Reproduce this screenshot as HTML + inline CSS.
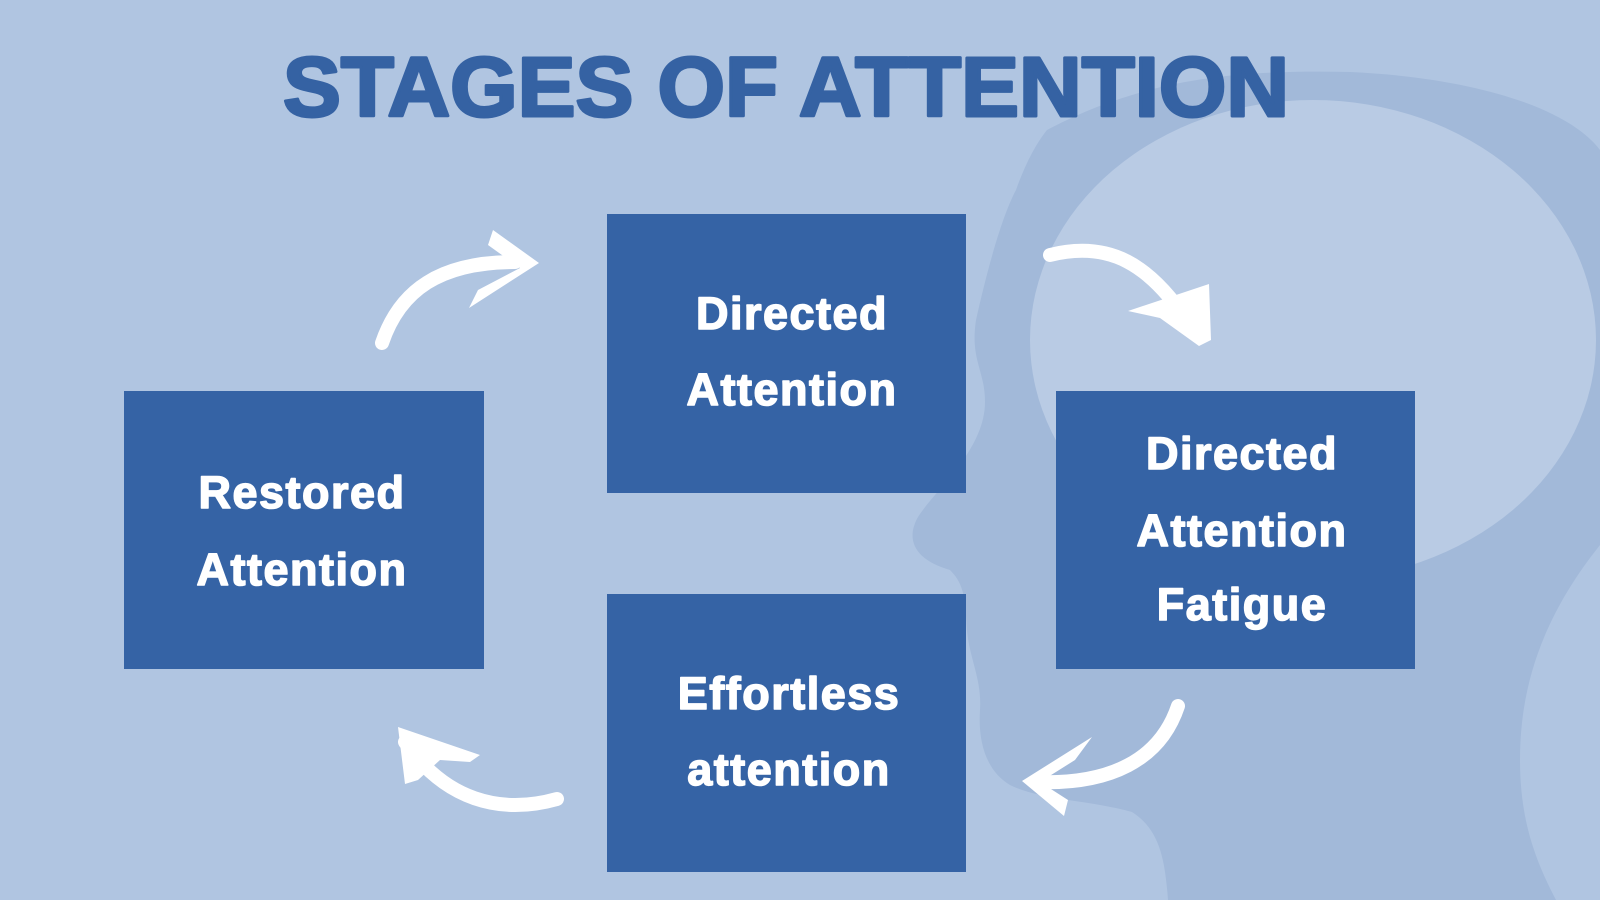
<!DOCTYPE html>
<html><head><meta charset="utf-8"><style>html,body{margin:0;padding:0;background:#b0c5e1}svg{display:block}</style></head>
<body>
<svg width="1600" height="900" viewBox="0 0 1600 900" xmlns="http://www.w3.org/2000/svg">
<rect width="1600" height="900" fill="#b0c5e1"/>
<!-- head -->
<path d="M1047,130 C1150,75 1250,70 1350,72 C1480,78 1570,110 1600,150 L1600,900 L1168,900 C1165,860 1160,830 1132,812 C1090,800 1040,800 1010,785 C985,770 978,740 980,710 C982,680 970,660 967,631 C965,600 965,585 950,570 C915,560 905,540 918,517 C935,490 985,450 985,402 C985,370 970,360 976,320 C985,280 1000,220 1016,190 C1025,165 1035,145 1047,130 Z" fill="#a2b9d9"/>
<ellipse cx="1313" cy="340" rx="283" ry="240" fill="#b9cbe4"/>
<path d="M1600,545 C1540,620 1520,690 1520,760 C1520,820 1535,860 1556,900 L1600,900 Z" fill="#b0c5e1"/>
<!-- title -->
<text x="786" y="116" text-anchor="middle" textLength="1006" lengthAdjust="spacingAndGlyphs" font-family="Liberation Sans, sans-serif" font-weight="bold" font-size="84" fill="#3562a3" stroke="#3562a3" stroke-width="3" stroke-linejoin="round">STAGES OF ATTENTION</text>
<!-- boxes -->
<g fill="#3563a5">
<rect x="607" y="214" width="359" height="279"/>
<rect x="124" y="391" width="360" height="278"/>
<rect x="1056" y="391" width="359" height="278"/>
<rect x="607" y="594" width="359" height="278"/>
</g>
<g font-family="Liberation Sans, sans-serif" font-weight="bold" font-size="45" fill="#fff" stroke="#fff" stroke-width="1.5" stroke-linejoin="round" text-anchor="middle" letter-spacing="1.5">
<text x="792" y="329">Directed</text>
<text x="792" y="405">Attention</text>
<text x="302" y="508">Restored</text>
<text x="302" y="585">Attention</text>
<text x="1242" y="469">Directed</text>
<text x="1242" y="546">Attention</text>
<text x="1242" y="620">Fatigue</text>
<text x="789" y="709">Effortless</text>
<text x="789" y="785">attention</text>
</g>
<!-- arrows -->
<g fill="none" stroke="#fff" stroke-width="14" stroke-linecap="round">
<path d="M382,343 C400,290 440,262 515,262"/>
<path d="M1050,255 C1110,240 1150,265 1188,322"/>
<path d="M1178,706 C1160,760 1110,785 1035,782"/>
<path d="M557,799 C500,815 445,800 405,742"/>
</g>
<g fill="#fff">
<polygon points="493,230 539,263 469,308 478,290 520,268 488,245"/>
<polygon points="1128,311 1209,284 1211,340 1199,346 1160,318"/>
<polygon points="1092,737 1022,781 1064,816 1068,800 1040,782 1075,760"/>
<polygon points="480,755 398,727 405,784 418,780 440,760 470,762"/>
</g>
</svg>
</body></html>
